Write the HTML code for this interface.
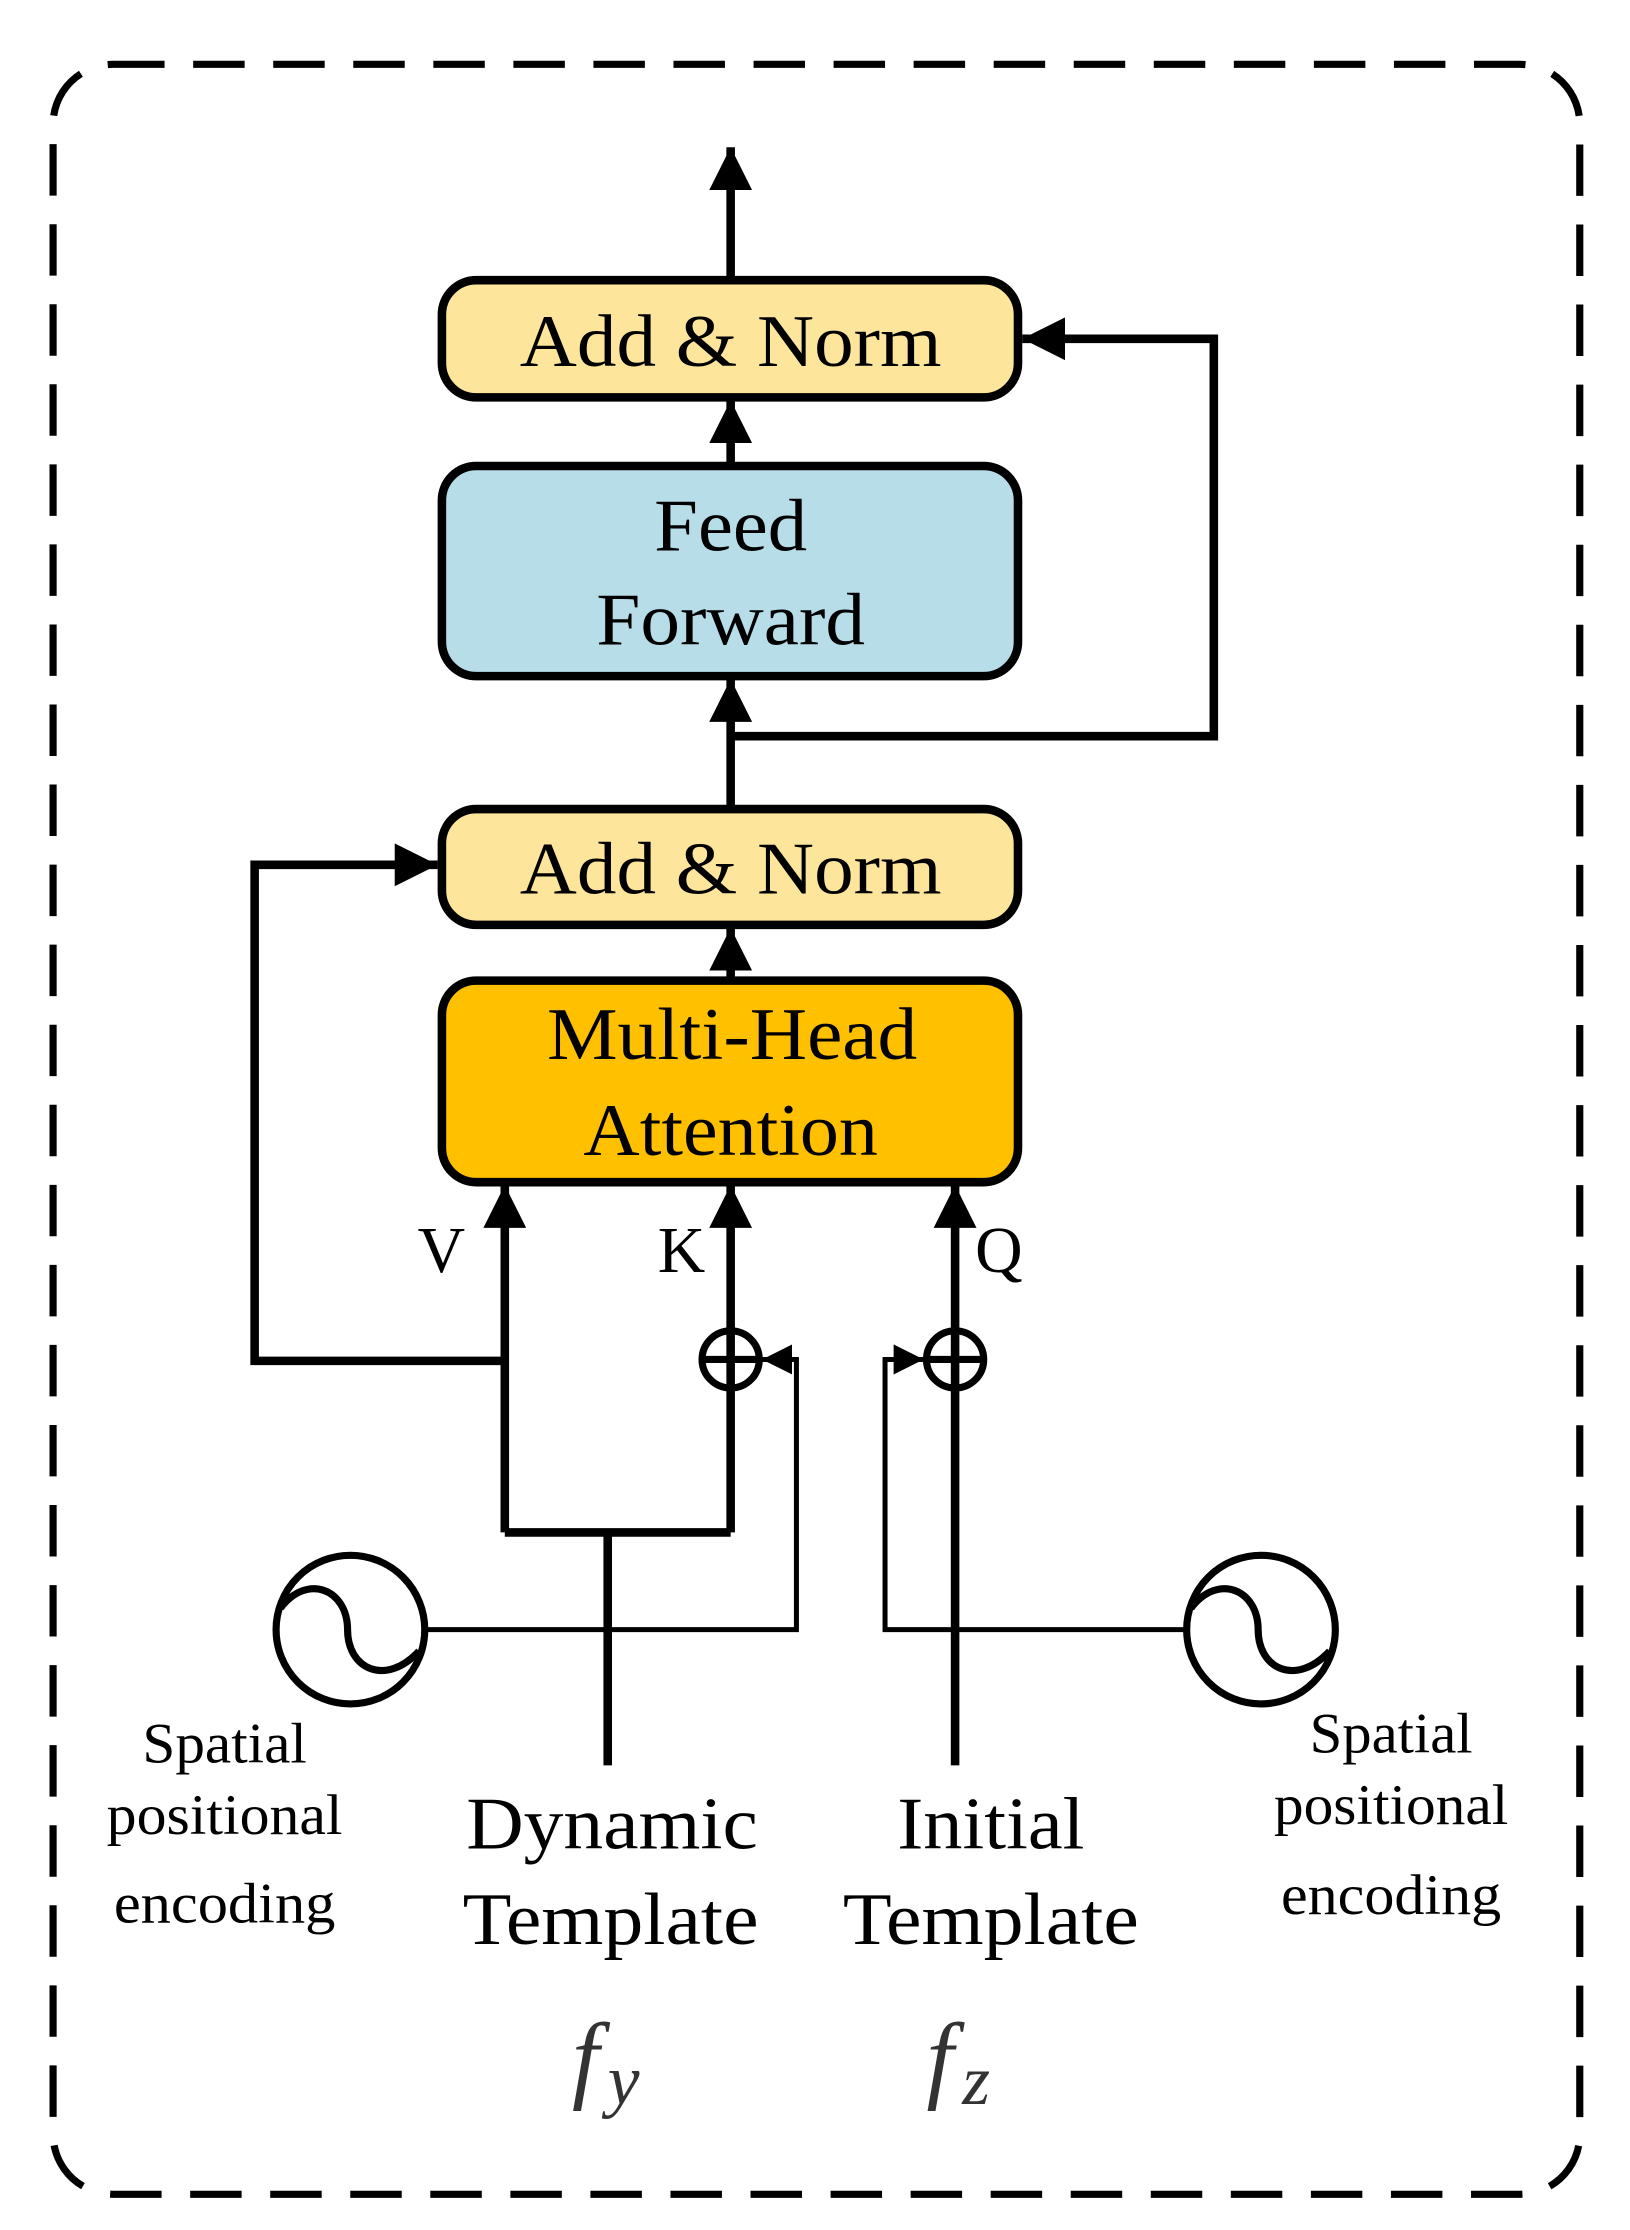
<!DOCTYPE html>
<html><head><meta charset="utf-8"><style>html,body{margin:0;padding:0;background:#fff}svg{display:block}</style></head>
<body>
<svg width="1630" height="2230" viewBox="0 0 1140 1560" xmlns="http://www.w3.org/2000/svg" font-family="Liberation Serif, serif">
<defs>
<marker id="ah" viewBox="0 0 10 10" refX="10" refY="5" markerWidth="5" markerHeight="5" markerUnits="strokeWidth" orient="auto">
<path d="M0,0 L10,5 L0,10 z" fill="#000"/></marker>
<marker id="as" viewBox="0 0 10 10" refX="10" refY="5" markerWidth="6" markerHeight="6" markerUnits="strokeWidth" orient="auto">
<path d="M0,0 L10,5 L0,10 z" fill="#000"/></marker>
</defs>
<rect x="37" y="45" width="1068" height="1490" rx="42" fill="none" stroke="#000" stroke-width="5" stroke-dasharray="36,20"/>
<g stroke="#000" stroke-width="6" fill="none">
<line x1="511" y1="195" x2="511" y2="103" marker-end="url(#ah)"/>
<line x1="511" y1="325" x2="511" y2="280" marker-end="url(#ah)"/>
<line x1="511" y1="565" x2="511" y2="475" marker-end="url(#ah)"/>
<polyline points="511,515 849,515 849,237 715,237" marker-end="url(#ah)"/>
<line x1="511" y1="685" x2="511" y2="649" marker-end="url(#ah)"/>
<polyline points="350,952 178,952 178,605 306,605" marker-end="url(#ah)"/>
<line x1="353" y1="1072" x2="353" y2="829" marker-end="url(#ah)"/>
<line x1="511" y1="1072" x2="511" y2="829" marker-end="url(#ah)"/>
<line x1="668" y1="1235" x2="668" y2="829" marker-end="url(#ah)"/>
<polyline points="353,1072 511,1072"/>
<line x1="425" y1="1072" x2="425" y2="1235"/>
</g>
<rect x="309" y="196" width="403" height="82" rx="24" fill="#FDE59C" stroke="#000" stroke-width="6"/>
<rect x="309" y="326" width="403" height="147" rx="24" fill="#B7DDE8" stroke="#000" stroke-width="6"/>
<rect x="309" y="566" width="403" height="81" rx="24" fill="#FDE59C" stroke="#000" stroke-width="6"/>
<rect x="309" y="686" width="403" height="141" rx="24" fill="#FFC000" stroke="#000" stroke-width="6"/>
<g stroke="#000" stroke-width="3.5" fill="none">
<polyline points="297,1140 557,1140 557,951 533,951" marker-end="url(#as)"/>
<polyline points="830,1140 619,1140 619,951 646,951" marker-end="url(#as)"/>
</g>
<g stroke="#000" stroke-width="5" fill="none">
<circle cx="511" cy="951" r="20"/><line x1="491" y1="951" x2="531" y2="951"/>
<circle cx="668" cy="951" r="20"/><line x1="648" y1="951" x2="688" y2="951"/>
<ellipse cx="245" cy="1140" rx="52" ry="52"/>
<path d="M196,1125 C215,1100 243,1112 243,1140 C243,1168 270,1180 293,1155"/>
<ellipse cx="882" cy="1140" rx="52" ry="52"/>
<path d="M833,1125 C852,1100 880,1112 880,1140 C880,1168 907,1180 930,1155"/>
</g>
<g font-size="52" text-anchor="middle" fill="#000">
<text x="511" y="256" textLength="295" lengthAdjust="spacingAndGlyphs">Add &amp; Norm</text>
<text x="511" y="385" textLength="107" lengthAdjust="spacingAndGlyphs">Feed</text>
<text x="511" y="451" textLength="188" lengthAdjust="spacingAndGlyphs">Forward</text>
<text x="511" y="625" textLength="295" lengthAdjust="spacingAndGlyphs">Add &amp; Norm</text>
<text x="512" y="741" textLength="259" lengthAdjust="spacingAndGlyphs">Multi-Head</text>
<text x="511" y="808" textLength="206" lengthAdjust="spacingAndGlyphs">Attention</text>
<text x="428" y="1293" textLength="204" lengthAdjust="spacingAndGlyphs">Dynamic</text>
<text x="427" y="1360" textLength="207" lengthAdjust="spacingAndGlyphs">Template</text>
<text x="693" y="1293" textLength="131" lengthAdjust="spacingAndGlyphs">Initial</text>
<text x="693" y="1360" textLength="207" lengthAdjust="spacingAndGlyphs">Template</text>
</g>
<g font-size="46" fill="#000">
<text x="292" y="890">V</text><text x="460" y="890">K</text><text x="682" y="890">Q</text>
</g>
<g font-size="40" text-anchor="middle" fill="#000">
<text x="157" y="1233" textLength="115" lengthAdjust="spacingAndGlyphs">Spatial</text>
<text x="157" y="1283" textLength="165" lengthAdjust="spacingAndGlyphs">positional</text>
<text x="157" y="1345" textLength="155" lengthAdjust="spacingAndGlyphs">encoding</text>
<text x="973" y="1226" textLength="114" lengthAdjust="spacingAndGlyphs">Spatial</text>
<text x="973" y="1276" textLength="164" lengthAdjust="spacingAndGlyphs">positional</text>
<text x="973" y="1339" textLength="154" lengthAdjust="spacingAndGlyphs">encoding</text>
</g>
<g font-size="68" font-style="italic" fill="#333">
<text x="400" y="1462">f</text><text x="425" y="1472" font-size="50">y</text>
<text x="648" y="1462">f</text><text x="673" y="1472" font-size="50">z</text>
</g>
</svg>
</body></html>
